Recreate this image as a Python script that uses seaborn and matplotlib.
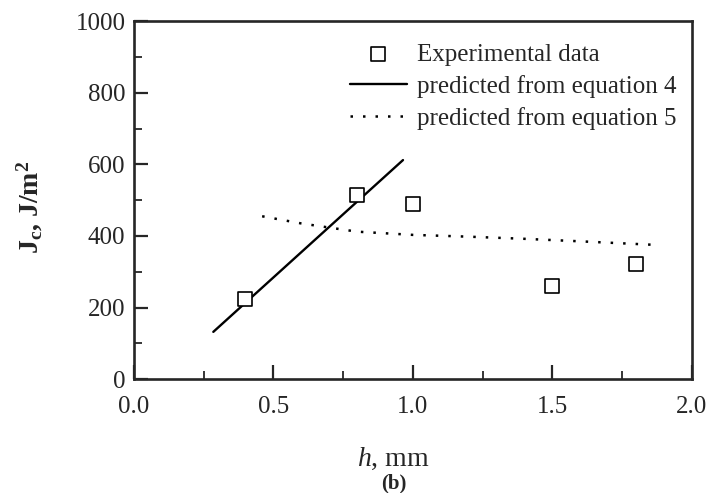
import numpy as np
import pandas as pd
import matplotlib
matplotlib.use("Agg")
import matplotlib.pyplot as plt
import seaborn as sns
from matplotlib.ticker import MultipleLocator

# dati
h_exp = [0.4, 0.8, 1.0, 1.5, 1.8]
jc_exp = [225, 515, 488, 260, 322]

h_eq4 = [0.285, 0.965]
jc_eq4 = [132, 612]

h_eq5 = [0.46, 0.6, 0.8, 1.0, 1.2, 1.4, 1.6, 1.87]
jc_eq5 = [455, 435, 412, 403, 398, 392, 385, 375]

sns.set_theme(style="ticks")
plt.rcParams['font.family'] = ['Liberation Serif', 'DejaVu Serif']
plt.rcParams['mathtext.fontset'] = 'custom'
plt.rcParams['mathtext.rm'] = 'Liberation Serif'
plt.rcParams['mathtext.it'] = 'Liberation Serif:italic'
plt.rcParams['mathtext.bf'] = 'Liberation Serif:bold'

fig = plt.figure(figsize=(7.08, 4.93), dpi=100)
ax = fig.add_axes([0.189, 0.231, 0.788, 0.726])

df_exp = pd.DataFrame({'h': h_exp, 'jc': jc_exp})
sns.scatterplot(data=df_exp, x='h', y='jc', ax=ax, marker='s', s=90,
                facecolor='white', edgecolor='black', linewidth=1.2,
                label='Experimental data', zorder=3)
sns.lineplot(x=h_eq4, y=jc_eq4, ax=ax, color='black', linewidth=1.7,
             label='predicted from equation 4')
sns.lineplot(x=h_eq5, y=jc_eq5, ax=ax, color='black', linewidth=1.8,
             linestyle=(0, (1, 4)), label='predicted from equation 5')

ax.set_xlim(0, 2.0)
ax.set_ylim(0, 1000)
ax.xaxis.set_major_locator(MultipleLocator(0.5))
ax.xaxis.set_minor_locator(MultipleLocator(0.25))
ax.yaxis.set_major_locator(MultipleLocator(200))
ax.yaxis.set_minor_locator(MultipleLocator(100))
ax.xaxis.set_major_formatter(matplotlib.ticker.FormatStrFormatter('%.1f'))
ax.tick_params(which='major', direction='in', length=10, width=1.6, labelsize=18, pad=6)
ax.tick_params(axis='x', which='major', pad=12)
ax.tick_params(which='minor', direction='in', length=6, width=1.3)
for s in ax.spines.values():
    s.set_linewidth(1.9)

ax.set_xlabel('')
ax.set_ylabel(r'J$_\mathbf{c}$, J/m$^\mathbf{2}$', fontsize=20, fontweight='bold')
ax.yaxis.set_label_coords(-0.16, 0.48)
fig.text(0.556, 0.069, r'$h$, mm', fontsize=20, ha='center', va='center')
fig.text(0.556, 0.02, '(b)', fontsize=15, fontweight='bold', ha='center', va='center')

leg = ax.legend(loc='upper right', frameon=False, fontsize=18,
                handlelength=2.3, handletextpad=0.4, labelspacing=0.36,
                borderaxespad=0.2, bbox_to_anchor=(1.0, 0.98))

fig.savefig('out.png', dpi=100)
